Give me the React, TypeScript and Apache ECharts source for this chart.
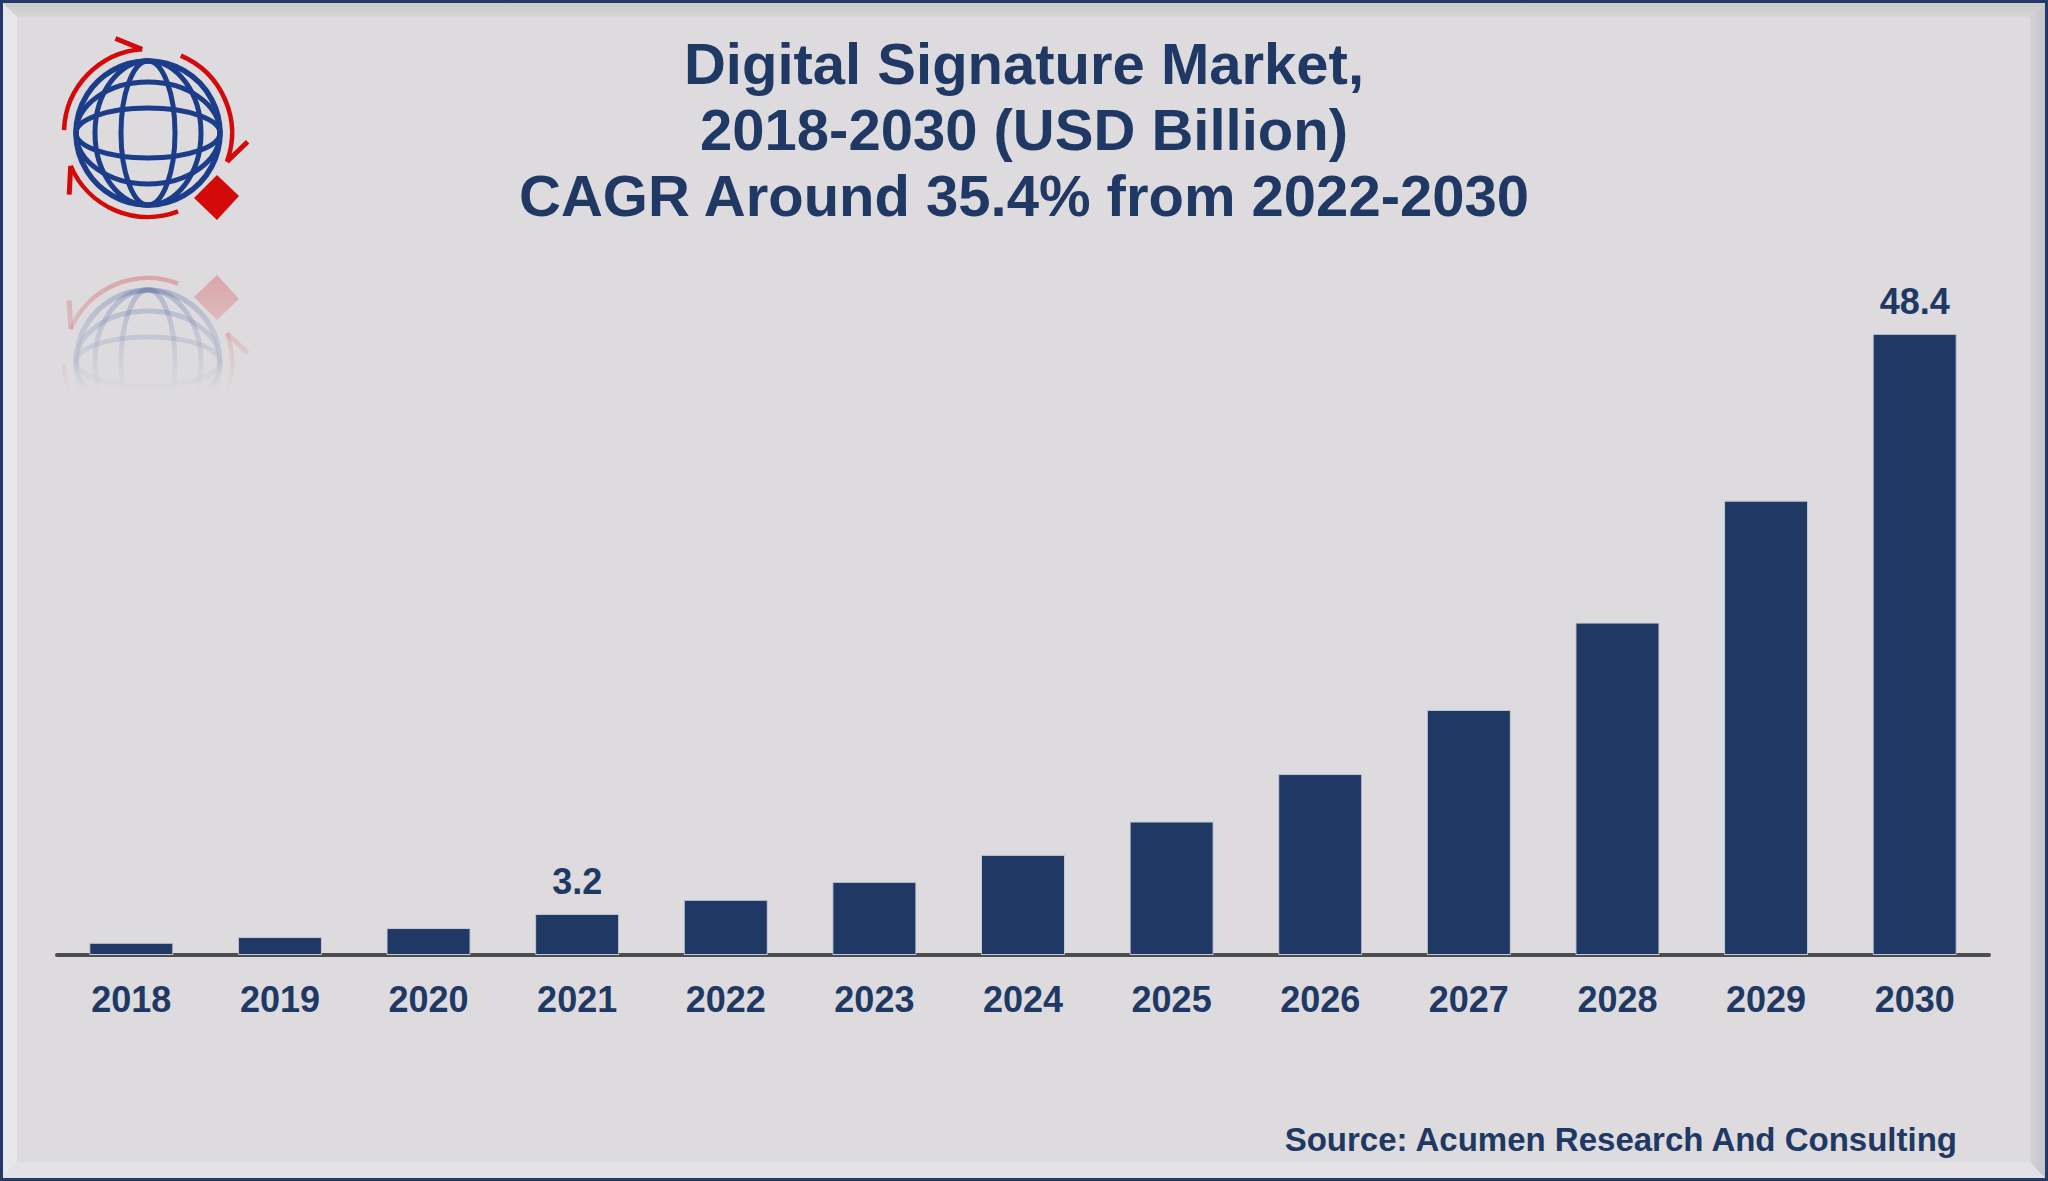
import React, { useEffect, useRef } from "react";
import * as echarts from "echarts";

const categories = ["2018", "2019", "2020", "2021", "2022", "2023", "2024", "2025", "2026", "2027", "2028", "2029", "2030"];
const values = [0.95, 1.4, 2.1, 3.2, 4.3, 5.7, 7.8, 10.4, 14.1, 19.1, 25.9, 35.4, 48.4];
const labelledYears = ["2021", "2030"];
const titleLines = ["Digital Signature Market,", "2018-2030 (USD Billion)", "CAGR Around 35.4% from 2022-2030"];
const sourceText = "Source: Acumen Research And Consulting";

const NAVY = "#203864";
const BG = "#dddbde";
const FONT = "'Liberation Sans', Arial, Helvetica, sans-serif";

function deg(a: number) {
  return (a * Math.PI) / 180;
}

function logoChildren(op: number) {
  const blue = "#1b3d8a";
  const red = "#d40a0a";
  const gw = 5;
  const kids: any[] = [];
  const ell = (rx: number, ry: number) => ({
    type: "ellipse",
    shape: { cx: 0, cy: 0, rx, ry },
    style: { fill: "none", stroke: blue, lineWidth: gw, opacity: op },
  });
  kids.push({ type: "circle", shape: { cx: 0, cy: 0, r: 72 }, style: { fill: "none", stroke: blue, lineWidth: gw + 0.5, opacity: op } });
  kids.push(ell(27, 72));
  kids.push(ell(53, 72));
  kids.push(ell(72, 25));
  kids.push(ell(72, 51));
  const arcs = [
    [182, 266],
    [293, 380],
    [69, 157],
  ];
  const R = 84;
  arcs.forEach(([s, e]) => {
    kids.push({
      type: "arc",
      shape: { cx: 0, cy: 0, r: R, startAngle: deg(s), endAngle: deg(e), clockwise: true },
      style: { fill: "none", stroke: red, lineWidth: 4.5, opacity: op },
    });
    const tip = [R * Math.cos(deg(e)), R * Math.sin(deg(e))];
    const barb = [100 * Math.cos(deg(e - 15)), 100 * Math.sin(deg(e - 15))];
    kids.push({
      type: "polyline",
      shape: { points: [tip, barb] },
      style: { fill: "none", stroke: red, lineWidth: 5, opacity: op },
    });
  });
  kids.push({
    type: "polygon",
    shape: { points: [[69, 42], [91, 63], [69, 87], [46, 65]] },
    style: { fill: red, opacity: op },
  });
  return kids;
}

export default function App() {
  const ref = useRef<HTMLDivElement>(null);
  useEffect(() => {
    document.body.style.margin = "0";
    if (!ref.current) return;
    const chart = echarts.init(ref.current, null, { renderer: "svg" });
    const W = 2048;
    const H = 1181;
    const option: any = {
      animation: false,
      backgroundColor: BG,
      title: {
        text: titleLines.join("\n"),
        left: "center",
        top: 25,
        textStyle: {
          fontFamily: FONT,
          fontSize: 58,
          fontWeight: "bold",
          color: NAVY,
          lineHeight: 66,
        },
      },
      grid: { left: 57, right: 59, top: 185, bottom: 226, containLabel: false },
      xAxis: {
        type: "category",
        data: categories,
        axisLine: { show: true, lineStyle: { color: "#4d4d4f", width: 4 } },
        axisTick: { show: false },
        axisLabel: {
          fontFamily: FONT,
          fontSize: 36,
          fontWeight: "bold",
          color: NAVY,
          margin: 26,
        },
      },
      yAxis: {
        type: "value",
        min: 0,
        max: 60,
        show: false,
        splitLine: { show: false },
      },
      series: [
        {
          type: "bar",
          barWidth: 84,
          z: 1,
          itemStyle: { color: NAVY, borderColor: "#c3c9d6", borderWidth: 1 },
          data: values.map((v, i) => ({
            value: v,
            label: {
              show: labelledYears.includes(categories[i]),
              position: "top",
              distance: 14,
              fontFamily: FONT,
              fontSize: 36,
              fontWeight: "bold",
              color: NAVY,
              lineHeight: 36,
            },
          })),
        },
      ],
      graphic: [
        { type: "rect", z: -10, shape: { x: 0, y: 0, width: W, height: H }, style: { fill: "#22396a" }, silent: true },
        { type: "rect", z: -9, shape: { x: 3, y: 3, width: W - 6, height: H - 6 }, style: { fill: BG }, silent: true },
        {
          type: "polygon", z: -8,
          shape: { points: [[3, 3], [W - 3, 3], [W - 18, 17], [17, 17]] },
          style: {
            fill: { type: "linear", x: 0, y: 0, x2: 0, y2: 1, colorStops: [{ offset: 0, color: "#cacacb" }, { offset: 1, color: "#d6d5d7" }] },
          },
        },
        {
          type: "polygon", z: -8,
          shape: { points: [[W - 3, 3], [W - 3, H - 3], [W - 18, H - 19], [W - 18, 17]] },
          style: {
            fill: { type: "linear", x: 0, y: 0, x2: 1, y2: 0, colorStops: [{ offset: 0, color: "#d3d3d5" }, { offset: 1, color: "#c4c5c7" }] },
          },
        },
        {
          type: "polygon", z: -8,
          shape: { points: [[3, H - 3], [W - 3, H - 3], [W - 18, H - 19], [17, H - 19]] },
          style: { fill: "#e3e2e5" },
        },
        {
          type: "polygon", z: -8,
          shape: { points: [[3, 3], [17, 17], [17, H - 19], [3, H - 3]] },
          style: { fill: "#e7e7eb" },
        },
        { type: "group", x: 148, y: 133, z: 5, children: logoChildren(1) },
        { type: "group", x: 148, y: 362, scaleY: -1, z: 5, children: logoChildren(0.3) },
        {
          type: "rect", z: 6,
          shape: { x: 40, y: 255, width: 230, height: 230 },
          style: {
            fill: {
              type: "linear", x: 0, y: 0, x2: 0, y2: 1,
              colorStops: [
                { offset: 0, color: "rgba(221,219,222,0)" },
                { offset: 0.6, color: "rgba(221,219,222,1)" },
                { offset: 1, color: "rgba(221,219,222,1)" },
              ],
            },
          },
          silent: true,
        },
        {
          type: "text", z: 10,
          x: 1957, y: 1139,
          style: {
            text: sourceText,
            fontFamily: FONT,
            fontSize: 33,
            fontWeight: "bold",
            fill: NAVY,
            textAlign: "right",
            textVerticalAlign: "middle",
          },
        },
      ],
    };
    chart.setOption(option);
    return () => chart.dispose();
  }, []);
  return <div ref={ref} style={{ width: 2048, height: 1181 }} />;
}
